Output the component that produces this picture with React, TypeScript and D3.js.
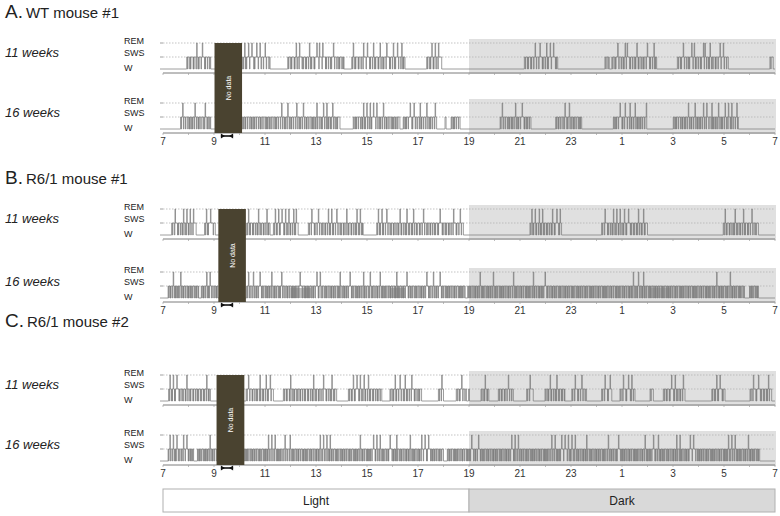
import React from 'react';
import * as d3 from 'd3';

// ---------- data ----------
const PANEL_LETTERS = ['A.', 'B.', 'C.'];
const PANEL_NAMES = ['WT mouse #1', 'R6/1 mouse #1', 'R6/1 mouse #2'];
const AGES = ['11 weeks', '16 weeks'];
const STATES = ['REM', 'SWS', 'W'];
const HOUR_TICKS = [7, 9, 11, 13, 15, 17, 19, 21, 23, 25, 27, 29, 31];
const HOUR_LABELS = ['7', '9', '11', '13', '15', '17', '19', '21', '23', '1', '3', '5', '7'];
const PHASES = ['Light', 'Dark'];
const PHASE_BOUNDS = [[7, 19], [19, 31]];

// no-data window per mouse (clock hours)
const NO_DATA = [[9.02, 10.1], [9.17, 10.25], [9.1, 10.19]];

// sleep bouts [start, end] and REM episode times (hours, 25 = 1 am)
const A11_BOUTS = [[7.93, 8.87], [10.12, 11.2], [11.89, 14.1], [14.4, 16.49], [17.34, 17.93], [21.17, 22.48], [24.33, 24.5], [24.6, 26.36], [27.17, 29.17], [30.8, 30.93]];
const A11_REM = [8.08, 8.32, 8.42, 8.54, 8.65, 10.2, 10.35, 10.48, 10.67, 10.8, 11.0, 12.22, 12.35, 12.63, 12.74, 13.03, 13.13, 13.26, 13.58, 13.68, 14.46, 14.66, 14.86, 15.01, 15.25, 15.51, 15.77, 16.03, 16.19, 16.36, 17.54, 17.67, 17.8, 21.46, 21.59, 21.78, 21.91, 22.04, 22.18, 22.31, 22.44, 24.83, 25.12, 25.2, 25.34, 25.58, 25.99, 26.1, 26.25, 27.4, 27.73, 27.83, 28.19, 28.25, 28.45, 28.58, 28.84, 28.97];

const A16_BOUTS = [[7.69, 8.87], [10.12, 13.94], [14.46, 16.29], [16.42, 17.73], [18.06, 18.1], [18.3, 18.65], [20.22, 21.43], [22.4, 23.42], [24.66, 25.97], [27.01, 29.56]];
const A16_REM = [7.77, 8.25, 8.38, 8.65, 8.74, 10.67, 10.93, 11.26, 11.65, 11.89, 12.05, 12.24, 12.5, 13.03, 13.29, 13.42, 13.65, 14.86, 14.99, 15.12, 15.25, 15.38, 15.51, 15.64, 15.77, 16.69, 16.84, 16.97, 17.08, 17.34, 17.67, 20.3, 20.43, 20.56, 20.69, 20.82, 20.95, 21.08, 21.2, 22.53, 22.76, 22.93, 23.03, 23.35, 24.92, 25.12, 25.31, 25.51, 25.64, 25.95, 27.1, 27.6, 27.73, 27.86, 28.19, 28.32, 28.52, 28.65, 28.78, 28.91, 29.04, 29.17, 29.3, 29.5];

const B11_BOUTS = [[7.34, 8.3], [8.63, 9.05], [10.28, 11.2], [11.33, 12.3], [12.7, 14.85], [15.38, 18.78], [21.39, 22.63], [24.2, 26.0], [28.97, 30.35]];
const B11_REM = [7.47, 7.6, 7.69, 7.8, 7.93, 8.06, 8.19, 8.7, 8.86, 10.35, 10.54, 10.74, 10.93, 11.07, 11.4, 11.53, 11.66, 11.8, 11.93, 12.12, 12.22, 12.83, 12.96, 13.09, 13.22, 13.35, 13.48, 13.61, 13.81, 14.07, 14.2, 14.4, 14.6, 14.73, 15.44, 15.58, 15.77, 15.9, 16.03, 16.29, 16.56, 16.82, 17.21, 17.47, 17.86, 18.12, 18.39, 18.65, 21.46, 21.59, 21.75, 21.88, 22.05, 22.27, 22.44, 22.57, 24.33, 24.46, 24.66, 24.79, 24.92, 25.09, 25.25, 25.44, 25.64, 25.84, 29.04, 29.24, 29.43, 29.63, 29.76, 29.95, 30.09, 30.22];

const B16_BOUTS = [[7.2, 8.4], [8.5, 9.15], [10.28, 18.85], [18.95, 29.8], [30.0, 30.35]];
const B16_REM = [7.4, 7.51, 7.6, 7.69, 7.82, 8.71, 8.84, 10.35, 10.54, 10.8, 10.96, 11.07, 11.26, 11.46, 11.65, 11.89, 12.11, 12.37, 12.7, 13.03, 13.16, 13.42, 13.62, 13.94, 14.33, 14.6, 14.86, 15.12, 15.51, 15.9, 16.16, 16.56, 17.01, 17.34, 17.6, 17.86, 18.25, 18.52, 18.71, 19.43, 19.69, 19.82, 19.95, 20.74, 20.93, 21.13, 21.33, 21.52, 21.65, 21.78, 21.98, 22.22, 25.31, 25.44, 25.64, 25.84, 28.71, 28.84, 29.24];
const B16_LOW = [[12.0, 12.8], [15.9, 16.5], [26.1, 26.9]];

const C11_BOUTS = [[7.22, 8.86], [10.26, 11.33], [11.72, 13.81], [14.27, 15.58], [15.9, 17.14], [17.8, 18.0], [18.5, 18.9], [18.98, 19.02], [19.47, 19.78], [20.15, 20.74], [21.26, 21.52], [21.98, 22.76], [23.03, 23.61], [24.2, 24.6], [24.92, 25.51], [26.1, 26.23], [26.62, 27.47], [28.52, 29.04], [30.02, 30.87]];
const C11_REM = [7.27, 7.4, 7.54, 7.67, 7.8, 7.93, 8.06, 8.39, 8.52, 8.71, 10.35, 10.67, 10.8, 11.04, 11.2, 12.0, 12.37, 12.9, 13.09, 13.29, 13.62, 14.46, 14.6, 14.73, 14.88, 15.05, 15.25, 16.1, 16.29, 16.49, 16.75, 17.93, 18.71, 19.63, 19.72, 20.41, 20.54, 21.39, 22.18, 22.44, 23.16, 23.29, 23.42, 23.55, 24.33, 24.53, 25.05, 25.25, 25.38, 25.44, 26.94, 27.08, 27.27, 27.4, 28.71, 28.84, 28.97, 30.15, 30.35, 30.55, 30.74];

const C16_BOUTS = [[7.2, 8.2], [8.35, 9.1], [10.2, 18.0], [18.15, 30.4]];
const C16_REM = [7.27, 7.4, 7.54, 7.67, 7.8, 7.93, 8.65, 8.84, 8.97, 10.87, 11.0, 11.13, 11.26, 11.39, 11.59, 11.78, 11.98, 12.11, 12.24, 13.03, 13.16, 13.29, 13.42, 13.55, 14.2, 14.4, 14.6, 14.73, 15.25, 15.38, 15.51, 15.64, 15.77, 15.9, 16.03, 16.16, 16.56, 16.69, 17.14, 17.27, 17.41, 17.54, 18.52, 19.1, 19.24, 19.37, 20.41, 20.54, 20.67, 20.8, 20.93, 21.07, 21.2, 22.24, 22.37, 22.5, 22.63, 22.76, 22.89, 23.03, 23.16, 23.61, 24.46, 24.6, 24.73, 24.86, 24.99, 25.9, 26.23, 26.42, 26.88, 27.01, 27.14, 27.27, 27.4, 27.53, 27.67, 27.8, 29.04, 29.17, 29.3, 29.43, 29.56, 29.7, 29.82, 29.95, 30.28];

const TRACES = [
  [{ bouts: A11_BOUTS, rem: A11_REM, low: [] }, { bouts: A16_BOUTS, rem: A16_REM, low: [] }],
  [{ bouts: B11_BOUTS, rem: B11_REM, low: [] }, { bouts: B16_BOUTS, rem: B16_REM, low: B16_LOW }],
  [{ bouts: C11_BOUTS, rem: C11_REM, low: [] }, { bouts: C16_BOUTS, rem: C16_REM, low: [] }],
];

// ---------- layout / style ----------
const W = 780, H = 516;
const PANEL_TITLE_Y = [18, 184, 327];
const TRACE_Y0 = [[43, 103], [209, 272], [375, 435]];
const FLICKER_STEP = [[0.065, 0.05], [0.06, 0.042], [0.06, 0.042]];
const JITTER = [0, 0.3, -0.2, 0.35, -0.3, 0.1, 0.25, -0.25, 0.15, -0.1, 0.3, -0.35];
const FONT = 'Liberation Sans, Arial, Helvetica, sans-serif';

const x = d3.scaleLinear().domain([7, 31]).range([163, 775]);

function buildPath(bouts: number[][], rems: number[], y0: number, step: number) {
  const yR = y0, yS = y0 + 14, yW = y0 + 26;
  let d = `M${x(7)},${yW}`;
  bouts.forEach(([a, b]) => {
    d += `H${x(a)}V${yS}`;
    const ev: { t: number; k: string }[] = [];
    for (let k = 0; ; k++) {
      const t = a + (k + 0.5) * step + JITTER[k % JITTER.length] * step;
      if (t > b - 0.03) break;
      ev.push({ t, k: 'd' });
    }
    rems.filter(r => r >= a && r < b).forEach(t => ev.push({ t, k: 'r' }));
    ev.sort((p, q) => p.t - q.t);
    let cur = a;
    ev.forEach(e => {
      if (e.t < cur + 0.004) return;
      if (e.k === 'd') {
        d += `H${x(e.t)}V${yW}H${x(e.t + 0.016)}V${yS}`;
        cur = e.t + 0.016;
      } else {
        d += `H${x(e.t)}V${yR}H${x(e.t + 0.02)}V${yS}`;
        cur = e.t + 0.02;
      }
    });
    d += `H${x(b)}V${yW}`;
  });
  d += `H${x(31)}`;
  return d;
}

function Trace({ p, t }: { p: number; t: number }) {
  const y0 = TRACE_Y0[p][t];
  const tr = TRACES[p][t];
  const yS = y0 + 14, yW = y0 + 26, yAx = y0 + 30;
  const levels = [y0, yS, yW];
  return (
    <g>
      <rect x={x(19)} y={y0 - 4} width={x(31) - x(19) + 1} height={35} fill="#e0e0e0" />
      {[y0, yS].map((y, i) => (
        <line key={i} x1={x(7)} x2={x(31)} y1={y} y2={y} stroke="#b4b4b4" strokeWidth={0.8} strokeDasharray="1.5,1.5" />
      ))}
      {tr.low.map(([a, b], i) => (
        <rect key={i} x={x(a)} y={yS + 2} width={x(b) - x(a)} height={yW - yS - 2} fill="#c2c2c2" />
      ))}
      <path d={buildPath(tr.bouts, tr.rem, y0, FLICKER_STEP[p][t])} fill="none" stroke="#7e7e7e" strokeWidth={0.75} />
      <line x1={x(7)} x2={x(31)} y1={yAx} y2={yAx} stroke="#7d7d7d" strokeWidth={1} />
      {d3.range(7, 32).map(h => (
        <line key={h} x1={x(h)} x2={x(h)} y1={yAx} y2={yAx + 2} stroke="#a0a0a0" strokeWidth={0.7} />
      ))}
      {levels.map((y, i) => (
        <line key={i} x1={x(7) - 3} x2={x(7)} y1={y} y2={y} stroke="#888" strokeWidth={0.8} />
      ))}
      {STATES.map((s, i) => (
        <text key={s} x={124} y={[y0 + 0.5, yS - 1, yW + 2][i]} fontSize={9} fontFamily={FONT} fill="#222">{s}</text>
      ))}
      <text x={5} y={y0 + 14} fontSize={13} fontStyle="italic" fontFamily={FONT} fill="#222">{AGES[t]}</text>
    </g>
  );
}

function Panel({ p }: { p: number }) {
  const [nd0, nd1] = NO_DATA[p];
  const top = TRACE_Y0[p][0];
  const bottom = TRACE_Y0[p][1] + 30;
  const cx = (x(nd0) + x(nd1)) / 2;
  const cy = (top + bottom) / 2;
  const by = bottom + 3;
  const bx0 = x(9.27), bx1 = x(9.75);
  return (
    <g>
      <text x={5} y={PANEL_TITLE_Y[p]} fontFamily={FONT} fill="#222">
        <tspan fontSize={19}>{PANEL_LETTERS[p]}</tspan>
        <tspan fontSize={15} dx={3}>{PANEL_NAMES[p]}</tspan>
      </text>
      <Trace p={p} t={0} />
      <Trace p={p} t={1} />
      <rect x={x(nd0)} y={top} width={x(nd1) - x(nd0)} height={bottom - top} fill="#4a4330" />
      <text x={cx} y={cy} transform={`rotate(-90 ${cx} ${cy})`} textAnchor="middle" dominantBaseline="central" fontSize={7} fontFamily={FONT} fill="#fff">No data</text>
      <line x1={bx0} x2={bx1} y1={by} y2={by} stroke="#111" strokeWidth={1.6} />
      <path d={`M${bx0},${by - 2.5}V${by + 2.5}L${bx0 + 4},${by}Z M${bx1},${by - 2.5}V${by + 2.5}L${bx1 - 4},${by}Z`} fill="#111" />
      {HOUR_TICKS.map((h, i) => (
        <text key={h} x={x(h)} y={bottom + 12} textAnchor="middle" fontSize={10} fontFamily={FONT} fill="#333">{HOUR_LABELS[i]}</text>
      ))}
    </g>
  );
}

export default function App() {
  return (
    <svg width={W} height={H} style={{ position: 'absolute', left: 0, top: 0, background: '#fff' }}>
      <rect width={W} height={H} fill="#fff" />
      {[0, 1, 2].map(p => <Panel key={p} p={p} />)}
      {PHASES.map((ph, i) => {
        const [a, b] = PHASE_BOUNDS[i];
        return (
          <g key={ph}>
            <rect x={x(a)} y={489} width={x(b) - x(a)} height={23} fill={i === 0 ? '#fff' : '#d9d9d9'} stroke="#b0b0b0" strokeWidth={1} />
            <text x={(x(a) + x(b)) / 2} y={505} textAnchor="middle" fontSize={12} fontFamily={FONT} fill="#222">{ph}</text>
          </g>
        );
      })}
    </svg>
  );
}
